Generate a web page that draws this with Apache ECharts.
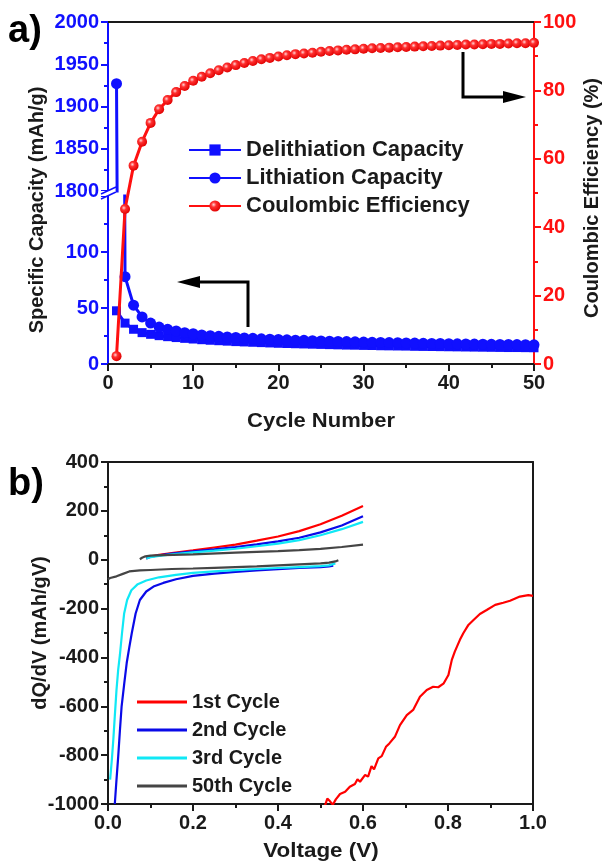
<!DOCTYPE html>
<html><head><meta charset="utf-8">
<script src="https://cdn.jsdelivr.net/npm/echarts@6/dist/echarts.min.js"></script>
<style>html,body{margin:0;padding:0;background:#fff}#c{width:608px;height:862px}</style>
</head><body><div id="c"></div>
<script>
// ---------- Panel a data ----------
const cycleNumbers = [1,2,3,4,5,6,7,8,9,10,11,12,13,14,15,16,17,18,19,20,21,22,23,24,25,26,27,28,29,30,31,32,33,34,35,36,37,38,39,40,41,42,43,44,45,46,47,48,49,50];
const delithiationCapacity = [47.5,36.5,31,28,26.5,25.3,24.4,23.6,22.9,22.3,21.7,21.2,20.8,20.4,20.0,19.7,19.4,19.1,18.8,18.5,18.3,18.1,17.9,17.7,17.5,17.3,17.1,16.9,16.8,16.6,16.5,16.3,16.2,16.1,16.0,15.8,15.7,15.6,15.5,15.4,15.3,15.2,15.1,15.0,14.9,14.8,14.7,14.7,14.6,14.5];
const lithiationCapacity = [1927,78,52.5,42,36.5,33,31,29.5,28,27,26,25.3,24.7,24.2,23.7,23.3,22.9,22.5,22.2,21.9,21.6,21.3,21.1,20.8,20.6,20.4,20.2,20.0,19.8,19.6,19.4,19.3,19.1,19.0,18.8,18.7,18.5,18.4,18.3,18.1,18.0,17.9,17.8,17.7,17.6,17.5,17.4,17.3,17.2,17.1];
const coulombicEfficiency = [2.3,45.3,58,65,70.5,74.5,77.2,79.5,81.3,82.8,84,85,85.9,86.7,87.4,88,88.6,89.1,89.5,89.9,90.3,90.6,90.8,91.0,91.3,91.5,91.7,91.9,92.0,92.2,92.3,92.4,92.5,92.6,92.7,92.8,92.9,93.0,93.1,93.2,93.3,93.4,93.4,93.5,93.6,93.6,93.7,93.8,93.8,93.9];

// ---------- Panel b data: [voltage, dQ/dV] ----------
const cycle1Discharge = [[0.510,-1010],[0.516,-978],[0.522,-988],[0.529,-1003],[0.536,-981],[0.546,-959],[0.558,-950],[0.569,-929],[0.581,-918],[0.587,-899],[0.593,-909],[0.605,-881],[0.612,-888],[0.620,-845],[0.626,-858],[0.636,-813],[0.644,-804],[0.654,-766],[0.662,-752],[0.675,-725],[0.687,-677],[0.703,-636],[0.718,-615],[0.734,-561],[0.750,-533],[0.765,-520],[0.777,-522],[0.790,-506],[0.801,-472],[0.809,-410],[0.816,-376],[0.828,-328],[0.836,-301],[0.848,-267],[0.860,-247],[0.875,-222],[0.891,-206],[0.911,-185],[0.930,-176],[0.946,-168],[0.969,-151],[0.989,-145],[1.000,-148]];
const cycle1Charge = [[0.090,5],[0.100,14],[0.120,20],[0.150,27],[0.200,38],[0.250,50],[0.300,62],[0.350,78],[0.400,95],[0.450,117],[0.500,145],[0.550,180],[0.600,220]];
const cycle2Discharge = [[0.016,-1000],[0.020,-900],[0.024,-806],[0.028,-700],[0.032,-601],[0.038,-510],[0.044,-423],[0.050,-360],[0.056,-300],[0.065,-220],[0.075,-165],[0.090,-130],[0.107,-110],[0.130,-95],[0.160,-80],[0.200,-66],[0.250,-57],[0.300,-50],[0.350,-44],[0.400,-39],[0.450,-34],[0.500,-30],[0.520,-27],[0.530,-24]];
const cycle2Charge = [[0.090,5],[0.100,12],[0.120,18],[0.150,25],[0.200,34],[0.250,42],[0.300,52],[0.350,63],[0.400,75],[0.450,90],[0.500,112],[0.550,140],[0.600,178]];
const cycle3Discharge = [[0.005,-900],[0.009,-820],[0.0125,-737],[0.016,-640],[0.020,-533],[0.024,-450],[0.028,-390],[0.033,-300],[0.038,-220],[0.045,-165],[0.055,-125],[0.070,-100],[0.090,-85],[0.120,-72],[0.160,-62],[0.200,-54],[0.250,-48],[0.300,-43],[0.350,-38],[0.400,-34],[0.450,-30],[0.500,-26],[0.520,-23],[0.535,-15]];
const cycle3Charge = [[0.090,5],[0.100,10],[0.120,16],[0.150,22],[0.200,30],[0.250,37],[0.300,45],[0.350,55],[0.400,66],[0.450,80],[0.500,100],[0.550,125],[0.600,155]];
const cycle50Discharge = [[0.000,-80],[0.005,-75],[0.020,-68],[0.035,-58],[0.050,-48],[0.075,-44],[0.100,-42],[0.150,-38],[0.200,-36],[0.250,-33],[0.300,-30],[0.350,-27],[0.400,-23],[0.450,-19],[0.500,-15],[0.520,-12],[0.535,-7],[0.542,-2]];
const cycle50Charge = [[0.075,2],[0.080,8],[0.088,14],[0.100,17],[0.130,19],[0.200,22],[0.300,29],[0.400,35],[0.450,39],[0.500,44],[0.550,52],[0.600,62]];

const FONT = '"Liberation Sans", Arial, Helvetica, sans-serif';
const BLUE = '#1010ff', RED = '#ff1010', BLACK = '#1a1a1a';

const pairs = (ys) => cycleNumbers.map((c, i) => [c, ys[i]]);

function axisStyle(color, showLabel) {
  return {
    axisLine: {show: true, onZero: false, lineStyle: {color: color, width: 2}},
    axisTick: {show: true, inside: false, length: 7, lineStyle: {color: color, width: 2}},
    minorTick: {show: true, splitNumber: 2, length: 4, lineStyle: {color: color, width: 2}},
    axisLabel: {show: showLabel, color: color, fontFamily: FONT, fontWeight: 'bold', fontSize: 20, margin: 9,
      formatter: (v) => String(v)},
    splitLine: {show: false}
  };
}
function lineOnly(color) {
  return {
    axisLine: {show: true, onZero: false, lineStyle: {color: color, width: 2}},
    axisTick: {show: false}, axisLabel: {show: false}, splitLine: {show: false}
  };
}

const sphere = {
  type: 'radial', x: 0.38, y: 0.38, r: 0.65,
  colorStops: [{offset: 0, color: '#ffd6d6'}, {offset: 0.35, color: '#ff3030'}, {offset: 1, color: '#e00000'}]
};

const option = {
  animation: false,
  backgroundColor: '#fff',
  grid: [
    {left: 108, top: 22, width: 426, height: 169},
    {left: 108, top: 196, width: 426, height: 168},
    {left: 108, top: 22, width: 426, height: 342},
    {left: 108, top: 462, width: 425, height: 342}
  ],
  xAxis: [
    Object.assign({gridIndex: 0, type: 'value', min: 0, max: 50, show: false}),
    Object.assign({gridIndex: 1, type: 'value', min: 0, max: 50, interval: 10, position: 'bottom'}, axisStyle(BLACK, true)),
    Object.assign({gridIndex: 2, type: 'value', min: 0, max: 50, position: 'top'}, lineOnly(BLACK)),
    Object.assign({gridIndex: 3, type: 'value', min: 0, max: 1, interval: 0.2, position: 'bottom'}, axisStyle(BLACK, true)),
    Object.assign({gridIndex: 3, type: 'value', min: 0, max: 1, position: 'top'}, lineOnly(BLACK))
  ],
  yAxis: [
    Object.assign({gridIndex: 0, type: 'value', min: 1800, max: 2000, interval: 50, position: 'left'}, axisStyle(BLUE, true)),
    Object.assign({gridIndex: 1, type: 'value', min: 0, max: 150, interval: 50, position: 'left'}, axisStyle(BLUE, true)),
    Object.assign({gridIndex: 2, type: 'value', min: 0, max: 100, interval: 20, position: 'right'}, axisStyle(RED, true)),
    Object.assign({gridIndex: 3, type: 'value', min: -1000, max: 400, interval: 200, position: 'left'}, axisStyle(BLACK, true)),
    Object.assign({gridIndex: 3, type: 'value', min: -1000, max: 400, position: 'right'}, lineOnly(BLACK))
  ],
  legend: [
    {
      data: ['Delithiation Capacity', 'Lithiation Capacity', 'Coulombic Efficiency'],
      orient: 'vertical', left: 188, top: 139, padding: 0, itemWidth: 52, itemHeight: 14, itemGap: 6,
      textStyle: {fontFamily: FONT, fontWeight: 'bold', fontSize: 22, color: BLACK}
    },
    {
      data: [{name: '1st Cycle', icon: 'rect'}, {name: '2nd Cycle', icon: 'rect'}, {name: '3rd Cycle', icon: 'rect'}, {name: '50th Cycle', icon: 'rect'}],
      orient: 'vertical', left: 137, top: 692, padding: 0, itemWidth: 50, itemHeight: 3, itemGap: 8,
      textStyle: {fontFamily: FONT, fontWeight: 'bold', fontSize: 20, color: BLACK}
    }
  ],
  series: []
};
option.yAxis[1].axisLabel.formatter = (v) => (v === 150 ? '' : String(v));
option.xAxis[3].axisLabel.formatter = (v) => v.toFixed(1);

// Panel a series
option.series.push({
  name: 'Lithiation Capacity', type: 'line', xAxisIndex: 0, yAxisIndex: 0, data: pairs(lithiationCapacity),
  symbol: 'circle', symbolSize: 11, lineStyle: {color: BLUE, width: 3}, itemStyle: {color: BLUE}, clip: true, z: 3
});
option.series.push({
  name: 'Delithiation Capacity', type: 'line', xAxisIndex: 1, yAxisIndex: 1, data: pairs(delithiationCapacity),
  symbol: 'rect', symbolSize: 9, lineStyle: {color: BLUE, width: 3}, itemStyle: {color: BLUE}, clip: true, z: 2
});
option.series.push({
  name: 'Lithiation Capacity', type: 'line', xAxisIndex: 1, yAxisIndex: 1, data: pairs(lithiationCapacity),
  symbol: 'circle', symbolSize: 11, lineStyle: {color: BLUE, width: 3}, itemStyle: {color: BLUE}, clip: true, z: 3
});
option.series.push({
  name: 'Coulombic Efficiency', type: 'line', xAxisIndex: 2, yAxisIndex: 2, data: pairs(coulombicEfficiency),
  symbol: 'circle', symbolSize: 10, lineStyle: {color: RED, width: 3}, itemStyle: {color: sphere}, z: 5
});

// Panel b series
const bSeries = [
  ['1st Cycle', '#ff0000', cycle1Discharge, cycle1Charge],
  ['2nd Cycle', '#0a0ae8', cycle2Discharge, cycle2Charge],
  ['3rd Cycle', '#10e8f5', cycle3Discharge, cycle3Charge],
  ['50th Cycle', '#454545', cycle50Discharge, cycle50Charge]
];
bSeries.forEach(([name, color, dis, ch]) => {
  [dis, ch].forEach((d) => {
    option.series.push({
      name: name, type: 'line', xAxisIndex: 3, yAxisIndex: 3, data: d, symbol: 'none', showSymbol: false,
      lineStyle: {color: color, width: 2.2}, itemStyle: {color: color}, clip: true
    });
  });
});

const titleFont = 'bold 20px ' + FONT;
option.graphic = [
  {type: 'text', left: 8, top: 13, style: {text: 'a)', font: 'bold 38px ' + FONT, fill: '#000'}},
  {type: 'text', left: 8, top: 466, style: {text: 'b)', font: 'bold 38px ' + FONT, fill: '#000'}},
  {type: 'text', x: 37, y: 210, rotation: Math.PI / 2, style: {text: 'Specific Capacity (mAh/g)', font: titleFont, fill: BLACK, align: 'center', verticalAlign: 'middle'}},
  {type: 'text', x: 592, y: 198, rotation: Math.PI / 2, style: {text: 'Coulombic Efficiency (%)', font: titleFont, fill: BLACK, align: 'center', verticalAlign: 'middle'}},
  {type: 'text', x: 321, y: 421, scaleX: 1.1, style: {text: 'Cycle Number', font: titleFont, fill: BLACK, align: 'center', verticalAlign: 'middle'}},
  {type: 'text', x: 321, y: 851, scaleX: 1.12, style: {text: 'Voltage (V)', font: titleFont, fill: BLACK, align: 'center', verticalAlign: 'middle'}},
  {type: 'text', x: 40, y: 633, rotation: Math.PI / 2, style: {text: 'dQ/dV (mAh/gV)', font: titleFont, fill: BLACK, align: 'center', verticalAlign: 'middle'}},
  // axis break marks
  {type: 'rect', shape: {x: 100, y: 191, width: 16, height: 5}, style: {fill: '#fff'}, z: 100},
  {type: 'line', shape: {x1: 101, y1: 194, x2: 116, y2: 187}, style: {stroke: BLUE, lineWidth: 1.5}, z: 101},
  {type: 'line', shape: {x1: 101, y1: 199, x2: 116, y2: 192}, style: {stroke: BLUE, lineWidth: 1.5}, z: 101},
  // arrows
  {type: 'polyline', shape: {points: [[248, 327], [248, 282], [196, 282]]}, style: {stroke: '#000', lineWidth: 3, fill: null}, z: 50},
  {type: 'polygon', shape: {points: [[177, 282], [200, 276], [200, 288]]}, style: {fill: '#000'}, z: 50},
  {type: 'polyline', shape: {points: [[463, 52], [463, 97], [506, 97]]}, style: {stroke: '#000', lineWidth: 3, fill: null}, z: 50},
  {type: 'polygon', shape: {points: [[526, 97], [503, 91], [503, 103]]}, style: {fill: '#000'}, z: 50}
];

const chart = echarts.init(document.getElementById('c'), null, {renderer: 'canvas'});
chart.setOption(option);
</script>
</body></html>
